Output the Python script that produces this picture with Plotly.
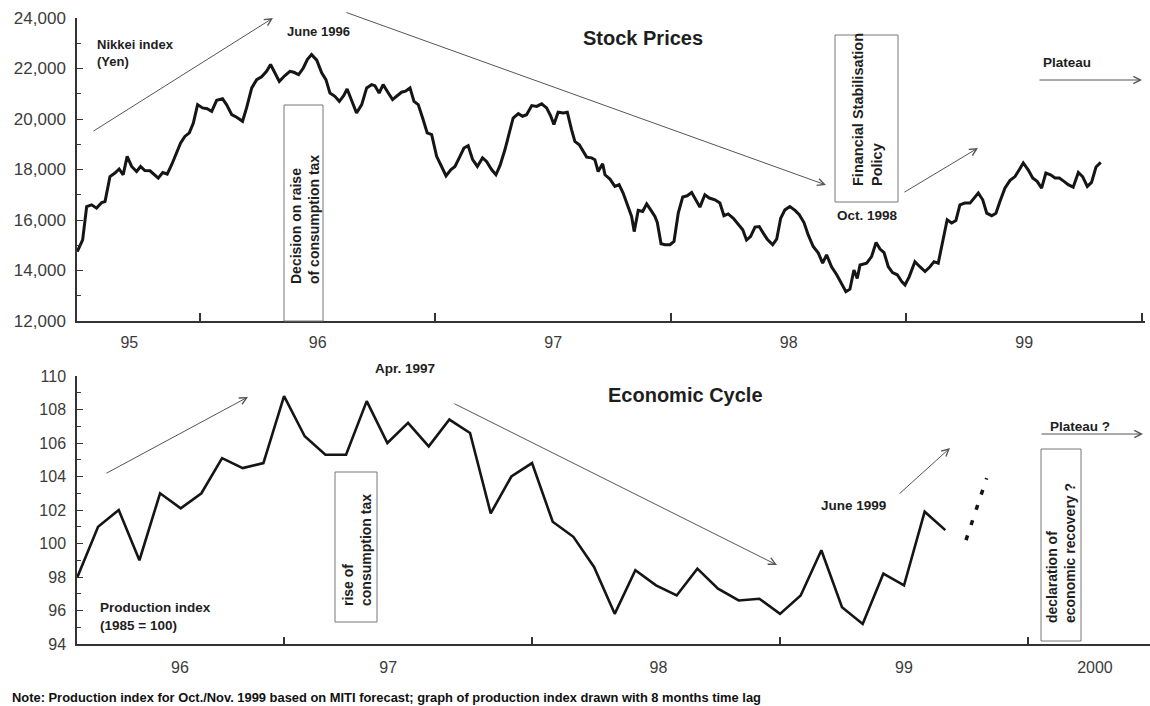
import plotly.graph_objects as go

# ---------------- data ----------------
# Nikkei index (Yen), decimal years
nikkei_t = [1995.479,1995.502,1995.519,1995.540,1995.561,1995.583,1995.597,1995.618,1995.639,1995.657,
            1995.674,1995.691,1995.710,1995.731,1995.748,1995.766,1995.788,1995.805,1995.823,1995.842,
            1995.861,1995.880,1995.898,1995.918,1995.936,1995.955,1995.972,1995.990,1996.011,1996.031,
            1996.050,1996.071,1996.096,1996.113,1996.135,1996.156,1996.181,1996.198,1996.220,1996.241,
            1996.262,1996.283,1996.300,1996.318,1996.337,1996.361,1996.382,1996.399,1996.419,1996.439,
            1996.456,1996.474,1996.496,1996.517,1996.535,1996.552,1996.573,1996.592,1996.611,1996.625,
            1996.644,1996.665,1996.687,1996.708,1996.729,1996.743,1996.761,1996.778,1996.800,1996.818,
            1996.835,1996.856,1996.873,1996.892,1996.909,1996.927,1996.948,1996.965,1996.984,1997.005,
            1997.026,1997.045,1997.065,1997.083,1997.101,1997.121,1997.139,1997.158,1997.178,1997.200,
            1997.217,1997.239,1997.257,1997.274,1997.295,1997.313,1997.330,1997.352,1997.370,1997.387,
            1997.409,1997.430,1997.451,1997.472,1997.489,1997.503,1997.521,1997.543,1997.560,1997.578,
            1997.592,1997.611,1997.628,1997.642,1997.663,1997.677,1997.691,1997.710,1997.720,1997.741,
            1997.762,1997.780,1997.797,1997.814,1997.833,1997.844,1997.861,1997.880,1997.897,1997.914,
            1997.932,1997.942,1997.958,1997.975,1997.996,1998.013,1998.031,1998.050,1998.069,1998.088,
            1998.106,1998.123,1998.144,1998.163,1998.187,1998.208,1998.225,1998.243,1998.265,1998.286,
            1998.305,1998.321,1998.338,1998.357,1998.375,1998.392,1998.409,1998.432,1998.449,1998.466,
            1998.484,1998.505,1998.527,1998.545,1998.565,1998.583,1998.604,1998.626,1998.644,1998.661,
            1998.682,1998.704,1998.725,1998.743,1998.760,1998.777,1998.791,1998.803,1998.831,1998.852,
            1998.871,1998.888,1998.905,1998.923,1998.941,1998.961,1998.980,1998.994,1999.012,1999.036,
            1999.057,1999.079,1999.100,1999.117,1999.135,1999.154,1999.173,1999.192,1999.210,1999.227,
            1999.248,1999.270,1999.287,1999.305,1999.324,1999.341,1999.362,1999.380,1999.397,1999.418,
            1999.440,1999.461,1999.479,1999.496,1999.517,1999.536,1999.555,1999.574,1999.592,1999.612,
            1999.631,1999.649,1999.669,1999.687,1999.708,1999.730,1999.748,1999.768,1999.786,1999.805,
            1999.825]
nikkei_v = [14750,15210,16530,16600,16470,16690,16730,17720,17860,18020,
            17790,18520,18120,17920,18120,17960,17950,17790,17660,17880,
            17820,18190,18590,19050,19310,19450,19840,20570,20440,20410,
            20300,20740,20800,20570,20170,20070,19910,20440,21230,21560,
            21670,21890,22160,21830,21490,21720,21890,21850,21760,22020,
            22350,22550,22330,21830,21560,21030,20900,20700,20930,21190,
            20770,20240,20570,21230,21360,21320,21030,21360,21030,20770,
            20900,21060,21100,21230,20700,20570,19970,19450,19380,18520,
            18120,17750,17990,18120,18460,18850,18940,18390,18120,18460,
            18320,17990,17790,18150,18780,19380,20040,20210,20110,20170,
            20530,20500,20600,20440,20130,19780,20270,20240,20270,19580,
            19110,18980,18720,18490,18460,18390,17920,18230,17790,17620,
            17330,17400,17070,16600,16140,15540,16380,16340,16640,16400,
            16140,15900,15060,15020,15020,15150,16270,16910,16960,17090,
            16800,16510,17000,16870,16800,16670,16170,16240,16070,15850,
            15610,15210,15340,15720,15740,15480,15240,15020,15240,16070,
            16400,16530,16380,16210,15900,15410,14950,14690,14290,14620,
            14150,13830,13500,13160,13260,14020,13690,14220,14290,14550,
            15110,14850,14710,14150,13920,13830,13560,13430,13760,14350,
            14150,13960,14150,14350,14290,15150,16010,15880,15980,16600,
            16670,16670,16870,17070,16800,16270,16170,16270,16730,17260,
            17570,17720,17990,18260,17990,17660,17530,17260,17860,17790,
            17660,17660,17530,17400,17300,17880,17720,17330,17490,18100,
            18280]

# Production index (1985 = 100), monthly, drawn with 8 months time lag
prod_start_year = 1996
prod_start_month = 3
prod_v = [98.0,101.0,102.0,99.0,103.0,102.1,103.0,105.1,104.5,104.8,
          108.8,106.4,105.3,105.3,108.5,106.0,107.2,105.8,107.4,106.6,
          101.8,104.0,104.8,101.3,100.4,98.6,95.8,98.4,97.5,96.9,
          98.5,97.3,96.6,96.7,95.8,96.9,99.6,96.2,95.2,98.2,
          97.5,101.9,100.8]
forecast_offset = 43          # months after start (Oct./Nov. 1999 MITI forecast)
forecast_v = [100.2, 103.9]

top_tick_pos = [1995.7, 1996.5, 1997.5, 1998.5, 1999.5]
top_tick_txt = ["95", "96", "97", "98", "99"]
top_year_marks = [1996, 1997, 1998, 1999, 2000]
bot_tick_pos = [1996.58, 1997.42, 1998.51, 1999.5, 2000.27]
bot_tick_txt = ["96", "97", "98", "99", "2000"]
bot_year_marks = [1997, 1998, 1999, 2000]

# ---------------- helpers ----------------
W, H = 1150, 706
FONT = "Liberation Sans, Arial, Helvetica, sans-serif"


def month_to_year(i):
    return prod_start_year + (prod_start_month - 1 + i) / 12.0


prod_t = [month_to_year(i) for i in range(len(prod_v))]
fc_t = [month_to_year(forecast_offset + i) for i in range(len(forecast_v))]


def X(px):
    return px / W


def Y(py):
    return 1 - py / H


annotations = []
shapes = []


def text(px, py, s, size=13.5, angle=0, xanchor="center", align="center", color="#1e1e1e"):
    annotations.append(dict(x=X(px), y=Y(py), xref="paper", yref="paper", text=s,
                            showarrow=False, textangle=angle, xanchor=xanchor,
                            yanchor="middle", align=align,
                            font=dict(family=FONT, size=size, color=color)))


def arrow(x0, y0, x1, y1):
    annotations.append(dict(x=X(x1), y=Y(y1), xref="paper", yref="paper", text="",
                            showarrow=True, ax=x0 - x1, ay=y0 - y1, axref="pixel", ayref="pixel",
                            arrowhead=5, arrowsize=1.4, arrowwidth=1, arrowcolor="#555",
                            standoff=0, startstandoff=0))


def box(x0, y0, x1, y1):
    shapes.append(dict(type="rect", xref="paper", yref="paper", x0=X(x0), x1=X(x1),
                       y0=Y(y1), y1=Y(y0), line=dict(color="#777", width=1),
                       fillcolor="rgba(0,0,0,0)"))


# ---------------- figure ----------------
fig = go.Figure()
fig.add_trace(go.Scatter(x=nikkei_t, y=nikkei_v, mode="lines", xaxis="x", yaxis="y",
                         line=dict(color="#151515", width=3), showlegend=False))
fig.add_trace(go.Scatter(x=prod_t, y=prod_v, mode="lines", xaxis="x2", yaxis="y2",
                         line=dict(color="#151515", width=2.6), showlegend=False))
fig.add_trace(go.Scatter(x=fc_t, y=forecast_v, mode="lines", xaxis="x2", yaxis="y2",
                         line=dict(color="#151515", width=3.5, dash="5px,11px"),
                         showlegend=False))

# top panel texts
text(95, 53, "<b>Nikkei index<br>(Yen)</b>", size=13, xanchor="left", align="left")
text(318, 31, "<b>June 1996</b>", size=13)
text(643, 38, "<b>Stock Prices</b>", size=20)
box(284, 105, 323, 321)
text(305, 220, "<b>Decision on raise<br>of consumption tax</b>", size=14, angle=-90, align="left")
box(835, 35, 898, 202)
text(868, 110, "<b>Financial Stabilisation<br>Policy</b>", size=14.5, angle=-90, align="left")
text(867, 215, "<b>Oct. 1998</b>", size=13.5)
text(1067, 63, "<b>Plateau</b>", size=13.5)
arrow(92, 132, 273, 18)
arrow(345, 12, 826, 185)
arrow(903, 193, 978, 148)
arrow(1038, 80, 1142, 80)

# bottom panel texts
text(405, 368, "<b>Apr. 1997</b>", size=13.5)
text(685, 395, "<b>Economic Cycle</b>", size=20)
box(335, 472, 377, 622)
text(357, 550, "<b>rise of<br>consumption tax</b>", size=14, angle=-90, align="left")
text(98, 616, "<b>Production index<br>(1985 = 100)</b>", size=13.5, xanchor="left", align="left")
text(853, 505, "<b>June 1999</b>", size=13.5)
text(1080, 426, "<b>Plateau ?</b>", size=13.5)
box(1041, 449, 1081, 641)
text(1061, 553, "<b>declaration of<br>economic recovery ?</b>", size=14, angle=-90, align="left")
arrow(105, 474, 248, 397)
arrow(453, 403, 777, 565)
arrow(898, 495, 950, 448)
arrow(1040, 434, 1143, 434)

text(10, 697, "<b>Note: Production index for Oct./Nov. 1999 based on MITI forecast; "
              "graph of production index drawn with 8 months time lag</b>",
     size=12.9, xanchor="left", align="left", color="#111")

axis_common = dict(showgrid=False, zeroline=False, showline=True, linecolor="#333",
                   linewidth=1.5, automargin=False,
                   tickfont=dict(family=FONT, size=16, color="#3c3c3c"))

fig.update_layout(
    width=W, height=H,
    margin=dict(l=0, r=0, t=0, b=0, pad=0, autoexpand=False),
    paper_bgcolor="white", plot_bgcolor="white",
    showlegend=False,
    xaxis=dict(axis_common, domain=[X(77), X(1145)], range=[1995.478, 2000.013], anchor="y",
               tickmode="array", tickvals=top_tick_pos, ticktext=top_tick_txt, ticks="",
               ticklabelstandoff=6,
               minor=dict(tickmode="array", tickvals=top_year_marks, ticks="inside",
                          ticklen=8, tickwidth=1.5, tickcolor="#333")),
    yaxis=dict(axis_common, domain=[Y(321), Y(18)], range=[12000, 24000], anchor="x",
               tickmode="linear", tick0=12000, dtick=2000, tickformat=",",
               ticks="inside", ticklen=6, tickwidth=1.2, tickcolor="#333",
               ticklabelstandoff=6, tickfont=dict(family=FONT, size=17, color="#3c3c3c"),
               minor=dict(dtick=1000, ticks="inside", ticklen=4, tickcolor="#333")),
    xaxis2=dict(axis_common, domain=[X(77), 1.0], range=[1996.165, 2000.492], anchor="y2",
                tickmode="array", tickvals=bot_tick_pos, ticktext=bot_tick_txt, ticks="",
                ticklabelstandoff=8,
                minor=dict(tickmode="array", tickvals=bot_year_marks, ticks="inside",
                           ticklen=7, tickwidth=1.5, tickcolor="#333")),
    yaxis2=dict(axis_common, domain=[Y(644), Y(376)], range=[94, 110], anchor="x2",
                tickmode="linear", tick0=94, dtick=2,
                ticks="inside", ticklen=6, tickwidth=1.2, tickcolor="#333",
                ticklabelstandoff=6,
                minor=dict(dtick=1, ticks="inside", ticklen=4, tickcolor="#333")),
    annotations=annotations,
    shapes=shapes,
)

fig.write_html("out.html",
               config={"displayModeBar": False},
               post_script="document.body.style.margin='0px';"
                           "document.body.style.overflow='hidden';")
